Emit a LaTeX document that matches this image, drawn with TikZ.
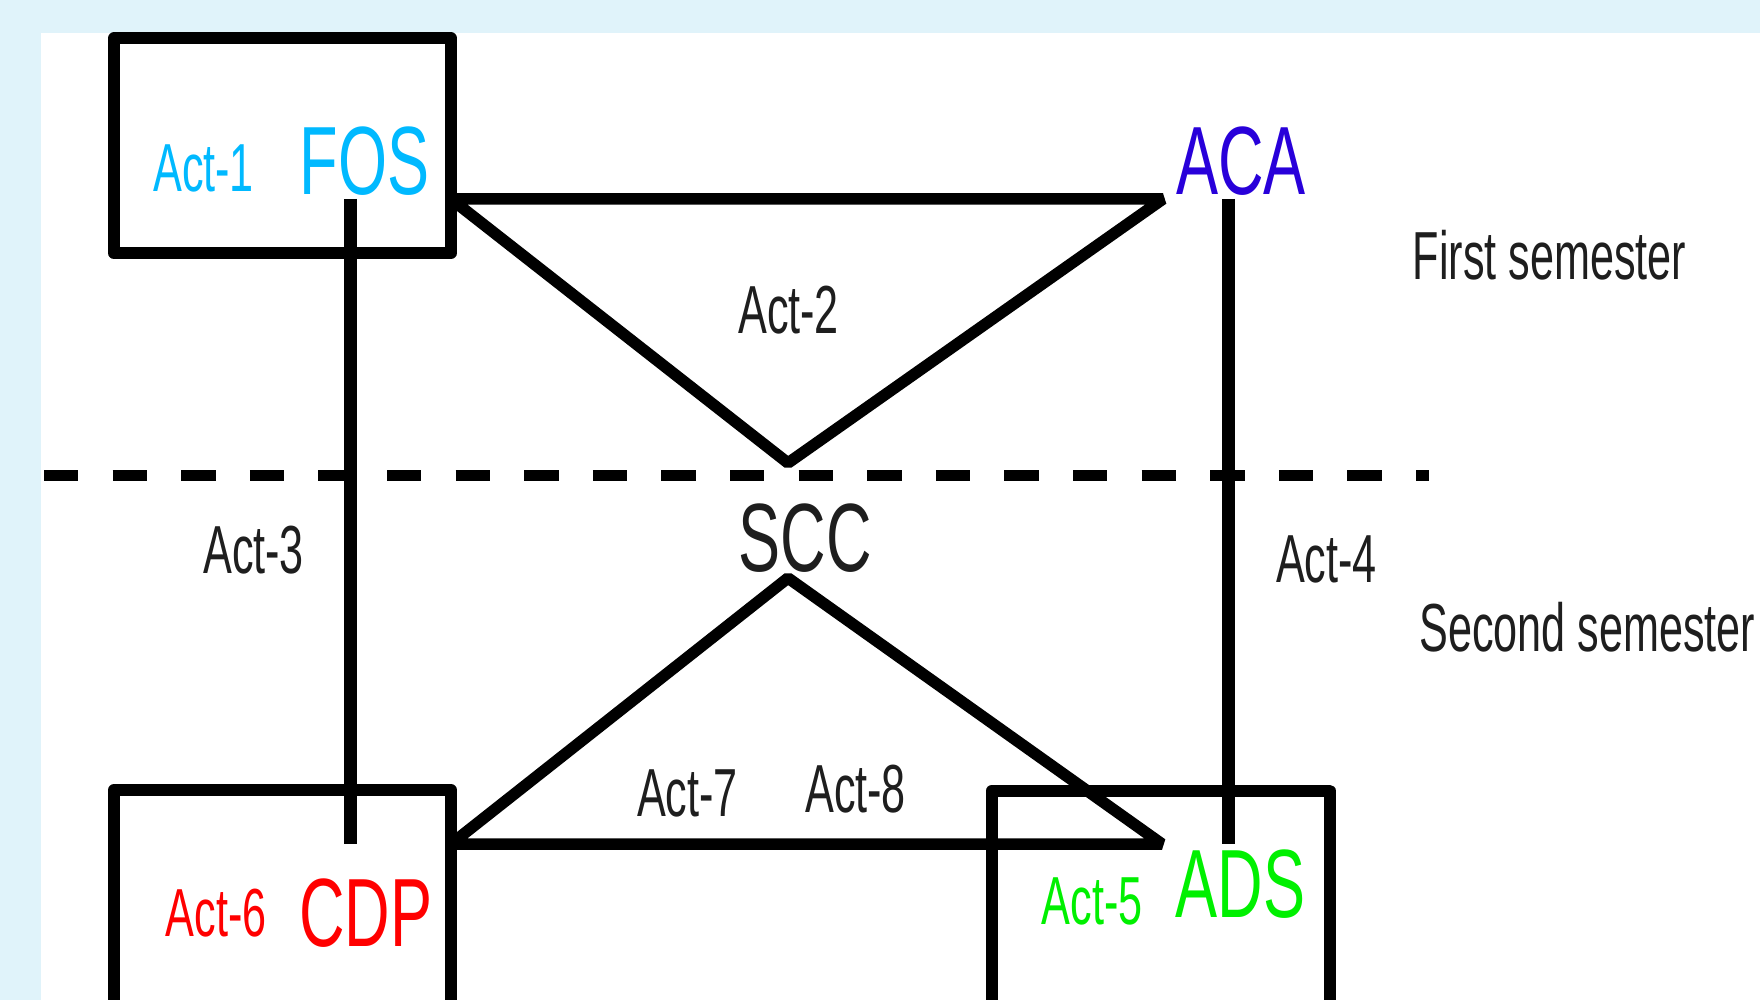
\documentclass[tikz,border=0pt]{standalone}
\usepackage{fontspec}
\setmainfont[FakeStretch=0.635]{Liberation Sans}
\newfontfamily\bigfont[FakeStretch=0.65]{Liberation Sans}
\definecolor{bgblue}{HTML}{E0F3FA}
\definecolor{txtdark}{HTML}{1E1E1E}
\definecolor{foscol}{HTML}{00B9FF}
\definecolor{acacol}{HTML}{2800DA}
\definecolor{cdpcol}{HTML}{FF0000}
\definecolor{adscol}{HTML}{00F000}
\tikzset{
  x=1pt, y=-1pt,
  heavy/.style={line width=12pt, draw=black, line join=round},
  vbar/.style={line width=13pt, draw=black},
  tri/.style={line width=11.5pt, draw=black, line join=bevel},
  sepline/.style={line width=11pt, draw=black, dash pattern=on 34.3pt off 34.3pt},
  boxnode/.style={heavy, rectangle, inner sep=0pt, outer sep=0pt},
  small/.style={anchor=base west, inner sep=0pt, font=\fontsize{68}{80}\selectfont},
  big/.style={anchor=base west, inner sep=0pt, font=\bigfont\fontsize{97}{110}\selectfont},
}
\begin{document}
\begin{tikzpicture}
\useasboundingbox (0,0) rectangle (1760,1000);
\fill[bgblue] (0,0) rectangle (1760,1000);
\fill[white] (41,33) rectangle (1760,1000);
\begin{scope}
\clip (0,0) rectangle (1760,1000);
% boxes
\node[boxnode, minimum width=337pt, minimum height=214.7pt] (fosbox) at (282.5,145.7) {};
\node[boxnode, minimum width=337pt, minimum height=310pt] (cdpbox) at (282.5,945) {};
\node[boxnode, minimum width=337.5pt, minimum height=310pt] (adsbox) at (1160.75,945.5) {};
% separator
\coordinate (sepL) at (44,475.7);
\coordinate (sepR) at (1429,475.7);
\draw[sepline] (sepL) -- (sepR);
% anchor points of connectors
\coordinate (fosDown) at (350,199);
\coordinate (cdpUp) at (350,844);
\coordinate (acaDown) at (1228,199);
\coordinate (adsUp) at (1228,844);
\coordinate (topL) at (451,199);
\coordinate (topR) at (1163,199);
\coordinate (apexTop) at (788,463);
\coordinate (apexBot) at (788,578);
\coordinate (botL) at (451,844);
\coordinate (botR) at (1162,844);
% connectors
\draw[vbar] (fosDown) -- (cdpUp);
\draw[vbar] (acaDown) -- (adsUp);
\draw[tri] (topL) -- (topR) -- (apexTop) -- cycle;
\draw[tri] (botL) -- (botR) -- (apexBot) -- cycle;
\end{scope}
% texts
\node[small, text=foscol] (act1) at (153,191.7) {Act-1};
\node[big, text=foscol] (fos) at (299.5,195) {FOS};
\node[big, text=acacol] (aca) at (1176,195) {ACA};
\node[small, text=txtdark] (first) at (1412.5,279) {First semester};
\node[small, text=txtdark] (act2) at (738,333) {Act-2};
\node[big, text=txtdark] (scc) at (738.5,571.7) {SCC};
\node[small, text=txtdark] (act3) at (203,573.3) {Act-3};
\node[small, text=txtdark] (act4) at (1275.8,582.3) {Act-4};
\node[small, text=txtdark] (second) at (1419,651.7) {Second semester};
\node[small, text=txtdark] (act7) at (636.8,816) {Act-7};
\node[small, text=txtdark] (act8) at (805,812.7) {Act-8};
\node[small, text=adscol] (act5) at (1041.5,924) {Act-5};
\node[big, text=adscol] (ads) at (1175.5,917.3) {ADS};
\node[small, text=cdpcol] (act6) at (165.5,936) {Act-6};
\node[big, text=cdpcol] (cdp) at (299,946.7) {CDP};
\end{tikzpicture}
\end{document}
